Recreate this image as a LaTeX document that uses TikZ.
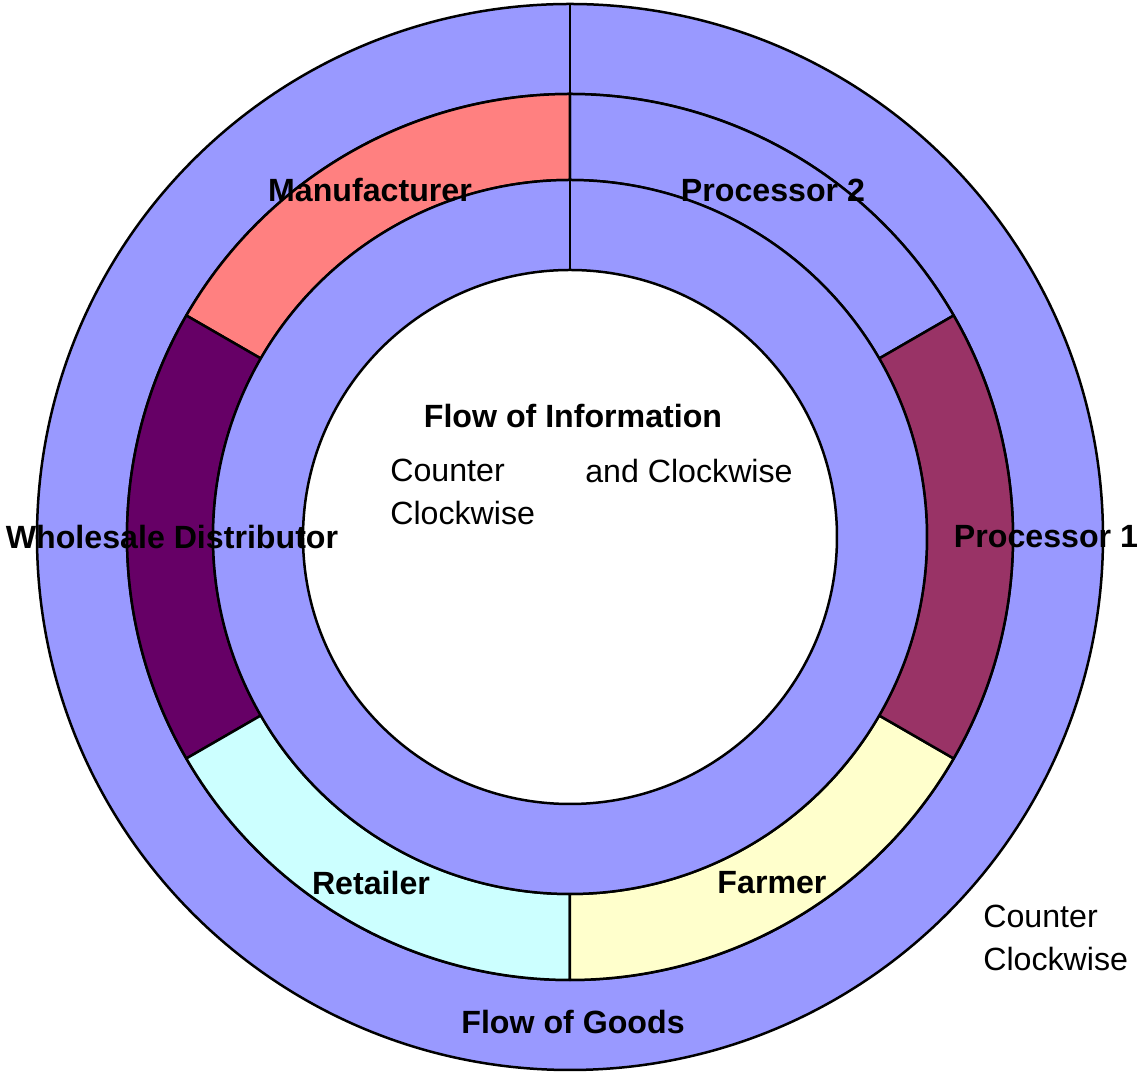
\documentclass[tikz,border=0pt]{standalone}
\usepackage{fontspec}
\setmainfont{Liberation Sans}
\definecolor{ringblue}{HTML}{9999FF}
\definecolor{manuf}{HTML}{FF8080}
\definecolor{wholesale}{HTML}{660066}
\definecolor{retail}{HTML}{CCFFFF}
\definecolor{farm}{HTML}{FFFFCC}
\definecolor{proc}{HTML}{993366}
\tikzset{
  ring/.style={draw=black, line width=0.05cm, line join=round},
  lbl/.style={font=\fontsize{18.3pt}{24pt}\selectfont\bfseries, inner sep=0pt},
  txt/.style={font=\fontsize{18.3pt}{24pt}\selectfont, inner sep=0pt, align=left, anchor=west}
}
\begin{document}
\begin{tikzpicture}[x=0.02cm, y=0.02cm]
        \useasboundingbox (-570,-537) rectangle (567,537);

        \filldraw[ring, fill=ringblue, even odd rule] (0,0) circle (533) (0,0) circle (443);

        \filldraw[ring, fill=ringblue] (30:443) arc (30:90:443) -- (90:357) arc (90:30:357) -- cycle;
        \filldraw[ring, fill=manuf] (90:443) arc (90:150:443) -- (150:357) arc (150:90:357) -- cycle;
        \filldraw[ring, fill=wholesale] (150:443) arc (150:210:443) -- (210:357) arc (210:150:357) -- cycle;
        \filldraw[ring, fill=retail] (210:443) arc (210:270:443) -- (270:357) arc (270:210:357) -- cycle;
        \filldraw[ring, fill=farm] (270:443) arc (270:330:443) -- (330:357) arc (330:270:357) -- cycle;
        \filldraw[ring, fill=proc] (-30:443) arc (-30:30:443) -- (30:357) arc (30:-30:357) -- cycle;

        \filldraw[ring, fill=ringblue, even odd rule] (0,0) circle (357) (0,0) circle (267);
        \draw[ring] (90:267) -- (90:533);

        \node[lbl] (manufacturer) at (-200, 347) {Manufacturer};
        \node[lbl] (processor2) at (203, 347) {Processor 2};
        \node[lbl] (processor1) at (476, 0) {Processor 1};
        \node[lbl] (wholesaler) at (-398, 0) {Wholesale Distributor};
        \node[lbl] (retailer) at (-199, -346) {Retailer};
        \node[lbl] (farmer) at (202, -346) {Farmer};
        \node[lbl] (goods) at (3, -485) {Flow of Goods};
        \node[lbl] (info) at (3, 121) {Flow of Information};

        \node[txt] (infoccw) at (-180, 45) {Counter\\Clockwise};
        \node[txt] (infocw) at (15, 66) {and Clockwise};
        \node[txt] (goodsccw) at (413, -401) {Counter\\Clockwise};
    \end{tikzpicture}
\end{document}
